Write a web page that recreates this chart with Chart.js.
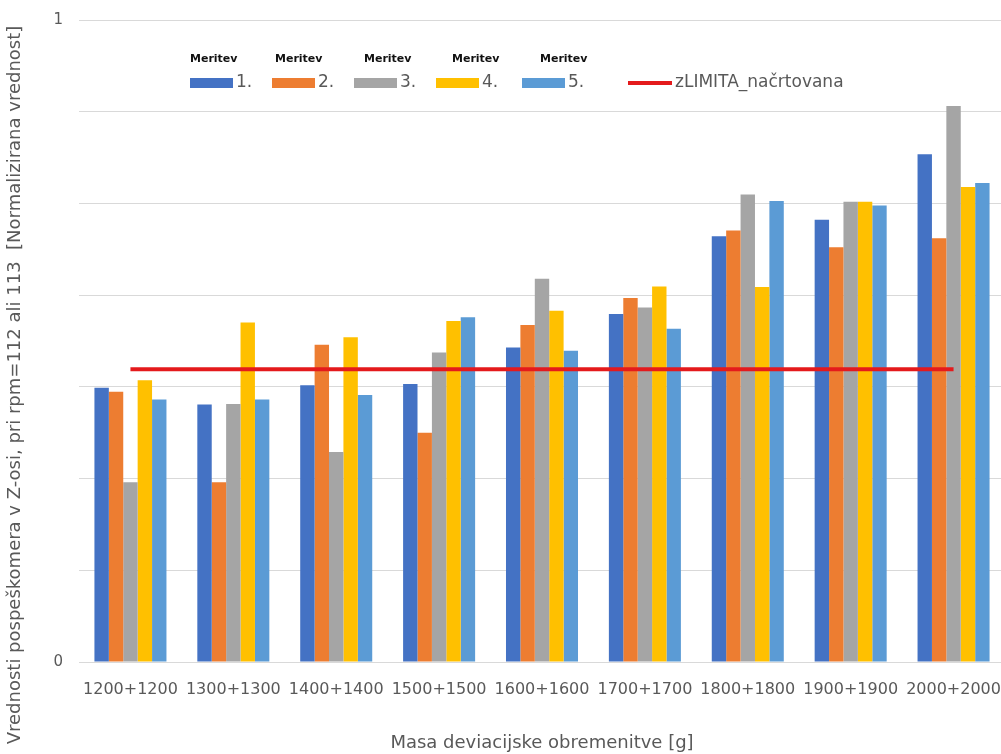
<!DOCTYPE html>
<html>
<head>
<meta charset="utf-8">
<script src="https://cdn.jsdelivr.net/npm/chart.js@4.4.1/dist/chart.umd.min.js"></script>
<style>
  html, body { margin: 0; padding: 0; background: #fff; overflow: hidden; }
  #wrap { width: 1010px; height: 754px; position: relative; }
</style>
</head>
<body>
<div id="wrap"><canvas id="chart"></canvas></div>
<script>
// --- data ---
const categories = ['1200+1200', '1300+1300', '1400+1400', '1500+1500', '1600+1600',
                    '1700+1700', '1800+1800', '1900+1900', '2000+2000'];
const seriesNames = ['Meritev 1.', 'Meritev 2.', 'Meritev 3.', 'Meritev 4.', 'Meritev 5.'];
const meritev1 = [0.427, 0.401, 0.431, 0.433, 0.490, 0.542, 0.663, 0.689, 0.791];
const meritev2 = [0.421, 0.280, 0.494, 0.357, 0.525, 0.567, 0.672, 0.646, 0.660];
const meritev3 = [0.280, 0.402, 0.327, 0.482, 0.597, 0.552, 0.728, 0.717, 0.866];
const meritev4 = [0.439, 0.529, 0.506, 0.531, 0.547, 0.585, 0.584, 0.717, 0.740];
const meritev5 = [0.409, 0.409, 0.416, 0.537, 0.485, 0.519, 0.718, 0.711, 0.746];
const limitName = 'zLIMITA_načrtovana';
const zLimita = [0.456, 0.456, 0.456, 0.456, 0.456, 0.456, 0.456, 0.456, 0.456];
const yTickLabels = { 0: '0', 1: '1' };
const yTitle = 'Vrednosti pospeškomera v Z-osi, pri rpm=112 ali 113  [Normalizirana vrednost]';
const xTitle = 'Masa deviacijske obremenitve [g]';

const barColors = ['#4472C4', '#ED7D31', '#A5A5A5', '#FFC000', '#5B9BD5'];
const textGray = '#595959';
const FONT = "'DejaVu Sans', sans-serif";

const barSeries = [meritev1, meritev2, meritev3, meritev4, meritev5];

// --- legend + rotated y title drawn the Excel way ---
const excelLegend = {
  id: 'excelLegend',
  afterDraw(chart) {
    const ctx = chart.ctx;
    const itemX = [190, 272, 354, 436, 522, 628];
    const headX = [190, 275, 364, 452, 540];
    const rowY = 83;
    ctx.save();
    chart.data.datasets.forEach((ds, i) => {
      const x = itemX[i];
      ctx.textBaseline = 'middle';
      ctx.textAlign = 'left';
      if (ds.type === 'line') {
        ctx.strokeStyle = ds.borderColor;
        ctx.lineWidth = 4;
        ctx.beginPath();
        ctx.moveTo(x, rowY);
        ctx.lineTo(x + 44, rowY);
        ctx.stroke();
        ctx.fillStyle = textGray;
        ctx.font = '17px ' + FONT;
        ctx.fillText(ds.label, x + 47, rowY);
      } else {
        const parts = ds.label.split(' ');
        ctx.fillStyle = ds.backgroundColor;
        ctx.fillRect(x, rowY - 5, 43, 10);
        ctx.fillStyle = textGray;
        ctx.font = '17px ' + FONT;
        ctx.fillText(parts[1], x + 46, rowY);
        ctx.fillStyle = '#111';
        ctx.font = 'bold 11px ' + FONT;
        ctx.fillText(parts[0], headX[i], 59);
      }
    });
    // y axis title
    ctx.translate(15, 385);
    ctx.rotate(-Math.PI / 2);
    ctx.textAlign = 'center';
    ctx.textBaseline = 'middle';
    ctx.fillStyle = textGray;
    ctx.font = '18px ' + FONT;
    ctx.fillText(yTitle, 0, 0);
    ctx.restore();
  }
};

const datasets = barSeries.map((vals, i) => ({
  type: 'bar',
  label: seriesNames[i],
  data: vals,
  backgroundColor: barColors[i],
  barPercentage: 1.0,
  categoryPercentage: 0.7,
  order: 2
}));
datasets.push({
  type: 'line',
  label: limitName,
  data: zLimita,
  borderColor: '#E41A1C',
  borderWidth: 4,
  pointRadius: 0,
  fill: false,
  order: 1
});

new Chart(document.getElementById('chart'), {
  data: { labels: categories, datasets: datasets },
  plugins: [excelLegend],
  options: {
    responsive: true,
    maintainAspectRatio: false,
    animation: false,
    layout: { autoPadding: false, padding: { top: 20, right: 5, left: 0, bottom: 0 } },
    plugins: {
      legend: { display: false },
      tooltip: { enabled: false }
    },
    scales: {
      x: {
        offset: true,
        grid: { display: false, drawTicks: false },
        border: { display: true, color: '#D9D9D9', width: 1 },
        ticks: { color: textGray, font: { family: FONT, size: 16 }, padding: 18, maxRotation: 0, autoSkip: false },
        title: { display: true, text: xTitle, color: textGray, font: { family: FONT, size: 18 }, padding: { top: 0, bottom: 0 } },
        afterFit: (scale) => {
          scale.height = 92;
          scale.paddingLeft = 0;
          scale.paddingRight = 0;
        }
      },
      y: {
        min: 0,
        max: 1,
        grid: { color: '#D9D9D9', drawTicks: false },
        border: { display: false },
        ticks: {
          count: 8,
          color: textGray,
          font: { family: FONT, size: 15 },
          padding: 16,
          callback: (v) => yTickLabels[Math.round(v * 1000) / 1000] || ''
        },
        afterFit: (scale) => {
          scale.width = 79;
          scale.paddingTop = 0;
          scale.paddingBottom = 0;
        }
      }
    }
  }
});
</script>
</body>
</html>
